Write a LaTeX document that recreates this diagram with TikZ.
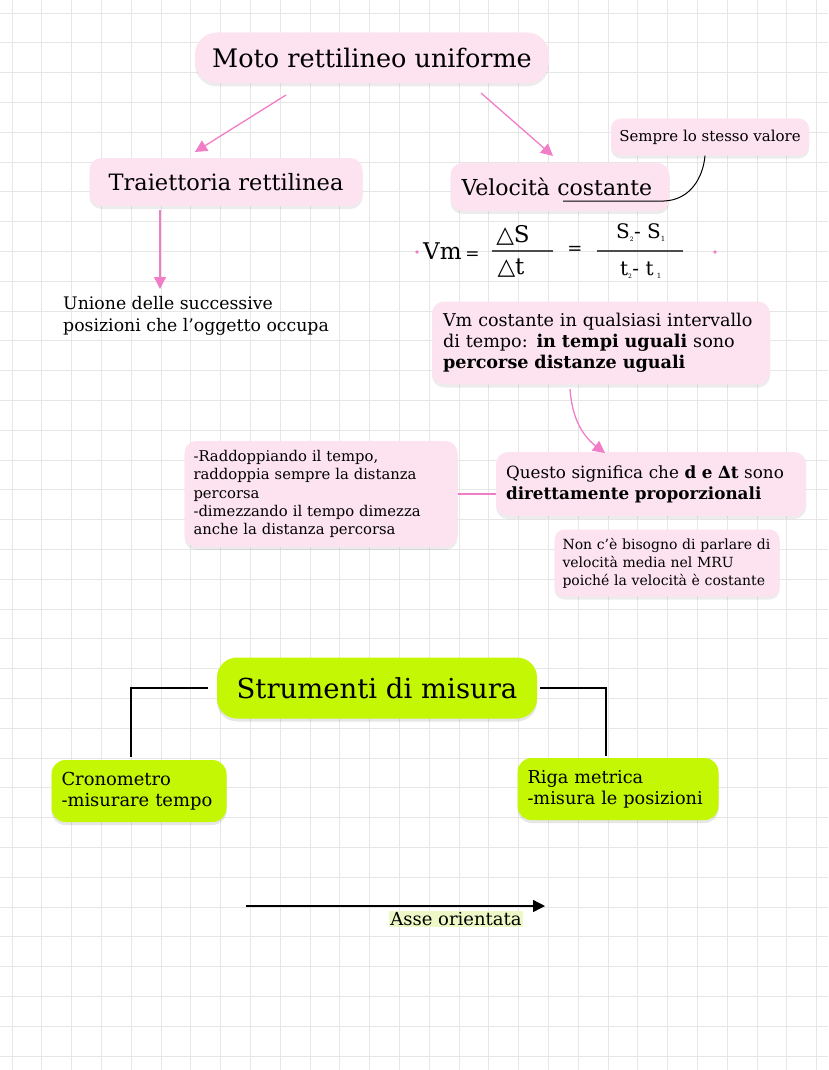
\documentclass[tikz,border=0pt]{standalone}
\usepackage{fontspec}
\setmainfont{DejaVu Serif}
\newfontfamily\symfont{DejaVu Sans}
\usetikzlibrary{shapes.geometric, arrows, arrows.meta, shadows, positioning}
\definecolor{boxpink}{HTML}{FCE3EF}
\definecolor{linkpink}{HTML}{F07DC6}
\definecolor{lime}{HTML}{C4F704}
\definecolor{gridgrey}{HTML}{E6E6E6}
\definecolor{marker}{HTML}{EDF8C6}
\tikzstyle{pinkbox} = [rectangle, rounded corners=12pt, fill=boxpink, inner sep=0pt, drop shadow={shadow xshift=0pt, shadow yshift=-3pt, opacity=0.15}]
\tikzstyle{greenbox} = [rectangle, rounded corners=14pt, fill=lime, inner sep=0pt, drop shadow={shadow xshift=0pt, shadow yshift=-3pt, opacity=0.2}]
\tikzstyle{arrow} = [line width=1.3pt, draw=linkpink, -{Triangle[length=12pt,width=12pt]}, linkpink]
\tikzstyle{link} = [line width=1.1pt, draw=black]
\tikzstyle{fracbar} = [line width=1.4pt, draw=black!70]

\begin{document}
\begin{tikzpicture}[x=1pt, y=-1pt]
        \useasboundingbox (0,0) rectangle (828,1070);
        % grid
        \foreach \i in {0,...,27} \draw[gridgrey, line width=0.8pt] (12+29.8*\i,0) -- (12+29.8*\i,1070);
        \foreach \j in {0,...,35} \draw[gridgrey, line width=0.8pt] (0,13+29.8*\j) -- (828,13+29.8*\j);

        % first map
        \node (moto) [pinkbox, rounded corners=22pt, minimum width=354pt, minimum height=51pt, font=\fontsize{25.5}{30}\selectfont] at (372,58) {Moto rettilineo uniforme};
        \node (traiettoria) [pinkbox, minimum width=273pt, minimum height=48pt, font=\fontsize{22.5}{26}\selectfont] at (226,182) {Traiettoria rettilinea};
        \node (velocita) [pinkbox, minimum width=219pt, minimum height=48pt, text width=197pt, align=left, font=\fontsize{22}{26}\selectfont] at (560,187) {Velocità costante};
        \node (sempre) [pinkbox, rounded corners=10pt, minimum width=198pt, minimum height=37pt, font=\fontsize{15}{18}\selectfont] at (710,137) {Sempre lo stesso valore};

        \draw [arrow] (286,95) -- (195,152);
        \draw [arrow] (481,93) -- (553,156);
        \draw [arrow] (160,210) -- (160,289);
        \draw [line width=1pt] (563,201) -- (664,201) .. controls (690,200) and (703,178) .. ([xshift=-5pt]sempre.south);

        \node (unione) [anchor=west, align=left, inner sep=0pt, font=\fontsize{17.3}{22}\selectfont] at (63,316) {Unione delle successive\\posizioni che l’oggetto occupa};

        % formula
        \fill[linkpink] (417,252) circle (1.8pt);
        \fill[linkpink] (715,252) circle (1.8pt);
        \node (vm) [anchor=west, font=\fontsize{23}{26}\selectfont, inner sep=0pt] at (423,251) {Vm\,{\fontsize{17}{20}\selectfont =}};
        \node (ds) [font=\fontsize{23}{26}\selectfont, inner sep=0pt] at (513,235) {{\symfont △}S};
        \node (dt) [font=\fontsize{23}{26}\selectfont, inner sep=0pt] at (511,268) {{\symfont △}t};
        \draw [fracbar] (492,251) -- (553,251);
        \node (eq) [font=\fontsize{18}{20}\selectfont, inner sep=0pt] at (575,250) {=};
        \node (ss) [font=\fontsize{20}{22}\selectfont, inner sep=0pt] at (641,233) {S\textsubscript{\fontsize{6}{7}\selectfont 2}- S\textsubscript{\fontsize{7}{8}\selectfont 1}};
        \node (tt) [font=\fontsize{20}{22}\selectfont, inner sep=0pt] at (641,270) {t\textsubscript{\fontsize{6}{7}\selectfont 2}- t\,\textsubscript{\fontsize{7}{8}\selectfont 1}};
        \draw [fracbar] (597,251) -- (683,251);

        \node (vmcost) [pinkbox, minimum width=338pt, minimum height=83pt, text width=316pt, align=left, font=\fontsize{17.6}{21}\selectfont] at (601,343) {Vm costante in qualsiasi intervallo\\di tempo: \textbf{in tempi uguali} sono\\\textbf{percorse distanze uguali}};
        \node (questo) [pinkbox, minimum width=310pt, minimum height=64pt, text width=290pt, align=left, font=\fontsize{16.8}{21}\selectfont] at (651,484) {Questo significa che \textbf{d e ∆t} sono\\\textbf{direttamente proporzionali}};
        \node (raddoppio) [pinkbox, minimum width=273pt, minimum height=106pt, text width=255pt, align=left, font=\fontsize{14.8}{18.2}\selectfont] at (321,494) {-Raddoppiando il tempo,\\raddoppia sempre la distanza\\percorsa\\-dimezzando il tempo dimezza\\anche la distanza percorsa};
        \node (media) [pinkbox, rounded corners=10pt, minimum width=225pt, minimum height=67pt, text width=209pt, align=left, font=\fontsize{14}{18}\selectfont] at (667,563) {Non c’è bisogno di parlare di\\velocità media nel MRU\\poiché la velocità è costante};

        \draw [arrow] (570,389) .. controls (572,420) and (584,437) .. (605,453);
        \draw [line width=1.3pt, linkpink] (raddoppio.east) -- (questo.west |- raddoppio.east);

        % second map
        \node (strumenti) [greenbox, rounded corners=20pt, minimum width=320pt, minimum height=61pt, font=\fontsize{27.5}{32}\selectfont] at (377,688) {Strumenti di misura};
        \node (crono) [greenbox, minimum width=175pt, minimum height=62pt, text width=155pt, align=left, font=\fontsize{17.9}{21}\selectfont] at (139,791) {Cronometro\\-misurare tempo};
        \node (riga) [greenbox, minimum width=201pt, minimum height=62pt, text width=181pt, align=left, font=\fontsize{17.7}{21}\selectfont] at (618,789) {Riga metrica\\-misura le posizioni};

        \coordinate (cronotop) at (131,757);
        \coordinate (rigatop) at (606,756);
        \draw [link] ([xshift=-9pt]strumenti.west) -| (cronotop);
        \draw [link] ([xshift=3pt]strumenti.east) -| (rigatop);

        \coordinate (assestart) at (246,906);
        \coordinate (asseend) at (545,906);
        \draw [line width=1.4pt, -{Triangle[length=12pt,width=12pt]}] (assestart) -- (asseend);
        \node (asse) [fill=marker, inner sep=1pt, font=\fontsize{18}{20}\selectfont] at (456,919) {Asse orientata};

    \end{tikzpicture}
\end{document}
